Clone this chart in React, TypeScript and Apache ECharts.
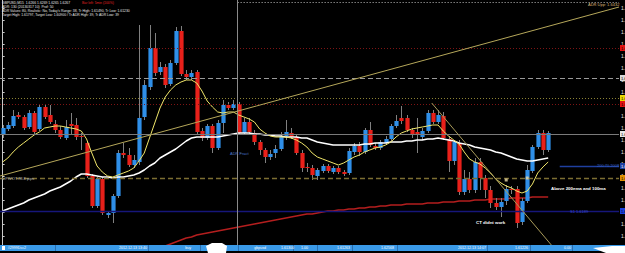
import React, { useEffect, useRef } from "react";
import * as echarts from "echarts";

// GBPUSD M15 candles (index = bar number from the left edge)
const opens = [
  1.6265, 1.6271, 1.6274, 1.6285, 1.6283, 1.6273, 1.6287, 1.6271, 1.6293, 1.6285,
  1.6276, 1.6270, 1.6262, 1.6276, 1.6275, 1.6264, 1.6257, 1.6224, 1.6194, 1.6221,
  1.6185, 1.6187, 1.6204, 1.6247, 1.6245, 1.6235, 1.6238, 1.6283, 1.6313, 1.6352,
  1.6328, 1.6333, 1.6316, 1.6337, 1.6369, 1.6326, 1.6323, 1.6328, 1.6269, 1.6262,
  1.6274, 1.6252, 1.6277, 1.6295, 1.6292, 1.6296, 1.6267, 1.6278, 1.6267, 1.6258,
  1.6250, 1.6243, 1.6247, 1.6251, 1.6264, 1.6267, 1.6263, 1.6247, 1.6233, 1.6232,
  1.6224, 1.6229, 1.6234, 1.6228, 1.6232, 1.6228, 1.6227, 1.6248, 1.6254, 1.6248,
  1.6270, 1.6254, 1.6252, 1.6257, 1.6261, 1.6274, 1.6282, 1.6282, 1.6270, 1.6268,
  1.6263, 1.6269, 1.6287, 1.6278, 1.6284, 1.6261, 1.6239, 1.6257, 1.6208, 1.6221,
  1.6210, 1.6238, 1.6222, 1.6210, 1.6197, 1.6193, 1.6199, 1.6211, 1.6211, 1.6178,
  1.6199, 1.6229, 1.6253, 1.6267, 1.6250,
];
const closes = [
  1.6272, 1.6275, 1.6284, 1.6283, 1.6272, 1.6287, 1.6268, 1.6293, 1.6283, 1.6278,
  1.6270, 1.6263, 1.6273, 1.6274, 1.6263, 1.6263, 1.6224, 1.6194, 1.6221, 1.6187,
  1.6187, 1.6204, 1.6247, 1.6245, 1.6235, 1.6240, 1.6282, 1.6315, 1.6352, 1.6327,
  1.6333, 1.6315, 1.6337, 1.6369, 1.6326, 1.6323, 1.6327, 1.6268, 1.6262, 1.6274,
  1.6252, 1.6277, 1.6295, 1.6292, 1.6296, 1.6267, 1.6278, 1.6268, 1.6258, 1.6250,
  1.6243, 1.6246, 1.6251, 1.6264, 1.6268, 1.6263, 1.6247, 1.6232, 1.6232, 1.6225,
  1.6230, 1.6234, 1.6229, 1.6232, 1.6228, 1.6226, 1.6249, 1.6254, 1.6248, 1.6270,
  1.6255, 1.6252, 1.6258, 1.6261, 1.6274, 1.6279, 1.6279, 1.6270, 1.6265, 1.6266,
  1.6269, 1.6287, 1.6278, 1.6285, 1.6262, 1.6239, 1.6258, 1.6208, 1.6221, 1.6210,
  1.6238, 1.6222, 1.6210, 1.6197, 1.6193, 1.6198, 1.6211, 1.6210, 1.6177, 1.6199,
  1.6230, 1.6253, 1.6267, 1.6250, 1.6267,
];
const lows = [
  1.6262, 1.6269, 1.6272, 1.6281, 1.6270, 1.6271, 1.6266, 1.6269, 1.6281, 1.6276,
  1.6267, 1.6261, 1.6260, 1.6265, 1.6260, 1.6250, 1.6222, 1.6192, 1.6192, 1.6185,
  1.6182, 1.6177, 1.6202, 1.6242, 1.6233, 1.6232, 1.6235, 1.6280, 1.6310, 1.6324,
  1.6325, 1.6312, 1.6314, 1.6335, 1.6324, 1.6320, 1.6320, 1.6266, 1.6259, 1.6260,
  1.6247, 1.6250, 1.6267, 1.6290, 1.6290, 1.6265, 1.6265, 1.6266, 1.6255, 1.6245,
  1.6237, 1.6240, 1.6242, 1.6249, 1.6260, 1.6261, 1.6245, 1.6228, 1.6228, 1.6220,
  1.6220, 1.6227, 1.6227, 1.6226, 1.6226, 1.6224, 1.6225, 1.6245, 1.6244, 1.6246,
  1.6253, 1.6250, 1.6250, 1.6255, 1.6259, 1.6272, 1.6276, 1.6268, 1.6262, 1.6247,
  1.6260, 1.6267, 1.6276, 1.6276, 1.6260, 1.6228, 1.6235, 1.6205, 1.6205, 1.6207,
  1.6207, 1.6210, 1.6202, 1.6192, 1.6190, 1.6183, 1.6195, 1.6206, 1.6172, 1.6175,
  1.6197, 1.6227, 1.6251, 1.6245, 1.6248,
];
const highs = [
  1.6275, 1.6278, 1.6290, 1.6288, 1.6285, 1.6290, 1.6289, 1.6295, 1.6295, 1.6295,
  1.6280, 1.6274, 1.6280, 1.6287, 1.6282, 1.6267, 1.6259, 1.6226, 1.6223, 1.6223,
  1.6189, 1.6206, 1.6250, 1.6257, 1.6252, 1.6245, 1.6375, 1.6320, 1.6375, 1.6367,
  1.6338, 1.6336, 1.6340, 1.6373, 1.6374, 1.6330, 1.6330, 1.6330, 1.6272, 1.6276,
  1.6276, 1.6280, 1.6300, 1.6298, 1.6300, 1.6298, 1.6282, 1.6282, 1.6270, 1.6260,
  1.6252, 1.6250, 1.6255, 1.6268, 1.6280, 1.6272, 1.6265, 1.6250, 1.6237, 1.6235,
  1.6232, 1.6236, 1.6236, 1.6234, 1.6234, 1.6230, 1.6252, 1.6257, 1.6258, 1.6272,
  1.6278, 1.6257, 1.6260, 1.6264, 1.6276, 1.6285, 1.6294, 1.6285, 1.6272, 1.6282,
  1.6272, 1.6290, 1.6290, 1.6290, 1.6288, 1.6264, 1.6260, 1.6260, 1.6230, 1.6228,
  1.6242, 1.6242, 1.6225, 1.6214, 1.6202, 1.6202, 1.6215, 1.6214, 1.6214, 1.6202,
  1.6235, 1.6255, 1.6270, 1.6270, 1.6269,
];

// Moving averages
const fastMA = [
  1.6238, 1.6242, 1.6248, 1.6253, 1.6257, 1.6261, 1.6265, 1.6268, 1.6272, 1.6273,
  1.6274, 1.6274, 1.6273, 1.6272, 1.6271, 1.6269, 1.6261, 1.6247, 1.6234, 1.6228,
  1.6224, 1.6223, 1.6225, 1.6227, 1.6229, 1.6232, 1.6239, 1.6247, 1.6262, 1.6277,
  1.6292, 1.6303, 1.6310, 1.6315, 1.6318, 1.6320, 1.6320, 1.6317, 1.6309, 1.6299,
  1.6293, 1.6288, 1.6287, 1.6288, 1.6288, 1.6285, 1.6283, 1.6281, 1.6278, 1.6271,
  1.6267, 1.6264, 1.6263, 1.6263, 1.6263, 1.6262, 1.6260, 1.6257, 1.6253, 1.6247,
  1.6243, 1.6241, 1.6239, 1.6237, 1.6235, 1.6237, 1.6240, 1.6243, 1.6245, 1.6248,
  1.6250, 1.6252, 1.6253, 1.6255, 1.6258, 1.6263, 1.6267, 1.6269, 1.6271, 1.6272,
  1.6273, 1.6274, 1.6275, 1.6275, 1.6269, 1.6264, 1.6260, 1.6256, 1.6248, 1.6241,
  1.6238, 1.6236, 1.6232, 1.6227, 1.6221, 1.6217, 1.6214, 1.6212, 1.6209, 1.6207,
  1.6209, 1.6216, 1.6227, 1.6233, 1.6238,
];
const slowMA = [
  1.6189, 1.6191, 1.6193, 1.6195, 1.6197, 1.6200, 1.6202, 1.6204, 1.6206, 1.6209,
  1.6211, 1.6213, 1.6216, 1.6219, 1.6223, 1.6226, 1.6226, 1.6225, 1.6224, 1.6223,
  1.6223, 1.6222, 1.6223, 1.6223, 1.6224, 1.6225, 1.6227, 1.6230, 1.6234, 1.6237,
  1.6242, 1.6245, 1.6248, 1.6251, 1.6255, 1.6259, 1.6262, 1.6263, 1.6263, 1.6263,
  1.6263, 1.6263, 1.6264, 1.6265, 1.6266, 1.6267, 1.6267, 1.6267, 1.6266, 1.6266,
  1.6265, 1.6265, 1.6264, 1.6264, 1.6263, 1.6263, 1.6263, 1.6262, 1.6262, 1.6260,
  1.6258, 1.6257, 1.6256, 1.6255, 1.6255, 1.6255, 1.6255, 1.6255, 1.6255, 1.6256,
  1.6256, 1.6257, 1.6257, 1.6257, 1.6258, 1.6258, 1.6258, 1.6259, 1.6259, 1.6260,
  1.6260, 1.6261, 1.6261, 1.6262, 1.6261, 1.6260, 1.6259, 1.6257, 1.6256, 1.6255,
  1.6253, 1.6252, 1.6251, 1.6250, 1.6248, 1.6247, 1.6245, 1.6243, 1.6241, 1.6240,
  1.6239, 1.6239, 1.6240, 1.6241, 1.6242,
];
const ema200Start = 28;
const ema200 = [
  1.6144, 1.6148, 1.6151, 1.6154, 1.6156, 1.6158, 1.6160, 1.6162, 1.6163, 1.6165,
  1.6166, 1.6167, 1.6168, 1.6169, 1.6170, 1.6171, 1.6172, 1.6173, 1.6174, 1.6175,
  1.6176, 1.6177, 1.6178, 1.6179, 1.6180, 1.6181, 1.6182, 1.6183, 1.6184, 1.6185,
  1.6186, 1.6186, 1.6187, 1.6188, 1.6189, 1.6189, 1.6190, 1.6190, 1.6191, 1.6191,
  1.6192, 1.6192, 1.6193, 1.6193, 1.6194, 1.6194, 1.6195, 1.6195, 1.6195, 1.6196,
  1.6196, 1.6196, 1.6196, 1.6197, 1.6197, 1.6197, 1.6198, 1.6198, 1.6198, 1.6199,
  1.6199, 1.6199, 1.6200, 1.6200, 1.6200, 1.6201, 1.6201, 1.6201, 1.6201, 1.6202,
  1.6202, 1.6202, 1.6202, 1.6203, 1.6203, 1.6203, 1.6203,
];

// Horizontal levels (full width)
const levelPrices = [1.6352, 1.6322, 1.6302, 1.6296, 1.6266, 1.6222, 1.6189];
// Partial levels
const topLevel = { from: 44.8, price: 1.6398 };
const emaLevel = { from: 106.2, price: 1.6234 };
const separatorBar = 44.8;
// Trend lines [bar, price]
const trendUp = [[-0.5, 1.6224], [117.5, 1.6393]];
const trendDown = [[81.8, 1.6297], [104.6, 1.6155]];
// trade arrows
const tradeMarks = [[96, 1.6220], [100, 1.6222]];

const yMin = 1.6152;
const yMax = 1.64;
const yStep = 0.0012;
const totalSlots = 118;

const infoLines = [
  "GBPUSD,M15  1.6266 1.6269 1.6265 1.6267",
  "ADR: 130 (20130317 10)  Prof: 50",
  "ADR Values: 80, Realistic: No, Today's Range: 38, Tr High: 1.61490, Tr Low: 1.61230",
  "Target High: 1.61797, Target Low: 1.60900 / Tr ADR High: 39, Tr ADR Low: 39",
];

const barCells = [
  { x: 26, text: "#2999Dcc2" },
  { x: 147, text: "2012.12.13 13:40" },
  { x: 191, text: "buy" },
  { x: 266, text: "gbpusd" },
  { x: 294, text: "1.61300" },
  { x: 308, text: "1.00" },
  { x: 350, text: "1.61263" },
  { x: 394, text: "1.62568" },
  { x: 486, text: "2012.12.13 14:07" },
  { x: 528, text: "1.61226" },
  { x: 571, text: "0.00" },
];
const barSeparators = [55, 148, 200, 238, 293, 317, 352, 397, 487, 530, 572];

const FONT = "Liberation Sans, Arial, sans-serif";

export default function App() {
  const ref = useRef<HTMLDivElement>(null);
  useEffect(() => {
    document.body.style.margin = "0";
    const chart = echarts.init(ref.current!, null, { renderer: "svg" });
    const candleData = opens.map((o, i) => [i, o, closes[i], lows[i], highs[i]]);
    const levelColors = ["#7e1414", "#9a9a9a", "#8c8234", "#7e1414", "#7a7a7a", "#7c6e32", "#16167a"];
    const levelTypes: any[] = [[1, 2], [5, 3], [1, 2], [1, 2], "solid", [5, 3], "solid"];
    const levelWidths = [1, 1, 1, 1, 1, 1.3, 1.3];
    const boxColors = ["#e01010", "#d8d8d8", "#e8d800", "#e01010", "#e8e8e8", "#e09000", "#1a40e0"];

    const mlData: any[] = levelPrices.map((p, k) => ({
      yAxis: p,
      lineStyle: { color: levelColors[k], type: levelTypes[k], width: levelWidths[k] },
      label: {
        show: true,
        position: "end",
        distance: 1,
        formatter: p.toFixed(4),
        fontSize: 4,
        fontFamily: FONT,
        color: "#000",
        backgroundColor: boxColors[k],
        padding: [1, 1],
      },
    }));
    mlData.push([
      { coord: [topLevel.from, topLevel.price], lineStyle: { color: "#bdbdbd", type: [1, 2], width: 1 } },
      { coord: [totalSlots - 0.5, topLevel.price] },
    ]);
    mlData.push([
      {
        coord: [emaLevel.from, emaLevel.price],
        lineStyle: { color: "#1f3f9f", type: "solid", width: 1.3 },
        label: {
          show: true, position: "end", distance: 1, formatter: emaLevel.price.toFixed(4),
          fontSize: 4, color: "#fff", backgroundColor: "#1f3f9f", padding: [1, 1], fontFamily: FONT,
        },
      },
      { coord: [totalSlots - 0.5, emaLevel.price] },
    ]);
    mlData.push({ xAxis: separatorBar, lineStyle: { color: "#8a8a8a", type: "solid", width: 1 } });
    mlData.push([
      { coord: trendUp[0], lineStyle: { color: "#b5a75a", type: "solid", width: 1 } },
      { coord: trendUp[1] },
    ]);
    mlData.push([
      { coord: trendDown[0], lineStyle: { color: "#a89a5a", type: "solid", width: 1 } },
      { coord: trendDown[1] },
    ]);

    const txt = (x: number, y: number, text: string, fill: string, size = 4, extra: any = {}) => ({
      type: "text",
      x,
      y,
      silent: true,
      style: { text, fill, fontSize: size, fontFamily: FONT, verticalAlign: "top", ...extra },
      z: 100,
    });

    const graphics: any[] = [];
    infoLines.forEach((t, k) => graphics.push(txt(2, 1 + k * 4, t, "#e6e6e6", 3.4)));
    graphics.push(txt(82, 1, "Bar left: 5min (100%)", "#e02020", 3.4));
    graphics.push(txt(588, 2, "ADR Upp: 1.6432", "#dcb878", 4));
    graphics.push(txt(230, 151, "ADR Fract", "#4a78c8", 4));
    graphics.push(txt(2, 176, "a:PIVOT:78.8 pips", "#b8b8b8", 4));
    graphics.push(txt(597, 163, "200:70.2008", "#3a60c0", 4));
    graphics.push(txt(570, 209, "S1 1.6189", "#3a4ad0", 4));
    graphics.push(txt(551, 186, "Above 200ema and 100ma", "#ffffff", 4.4, { fontWeight: "bold" }));
    graphics.push(txt(476, 220, "CT didnt work", "#ffffff", 4.4, { fontWeight: "bold" }));
    // bottom trade bar
    graphics.push({ type: "rect", shape: { x: 0, y: 245, width: 625, height: 6 }, style: { fill: "#3a9ae8" }, z: 90 });
    graphics.push({ type: "rect", shape: { x: 0, y: 251, width: 625, height: 2 }, style: { fill: "#000" }, z: 90 });
    barSeparators.forEach((sx) =>
      graphics.push({ type: "line", shape: { x1: sx + 0.5, y1: 245, x2: sx + 0.5, y2: 251 }, style: { stroke: "#2b6fb0", lineWidth: 1 }, z: 91 })
    );
    graphics.push({ type: "rect", shape: { x: 2, y: 246, width: 3, height: 4 }, style: { fill: "#ffffff" }, z: 92 });
    barCells.forEach((c) =>
      graphics.push({
        type: "text", x: c.x, y: 248, silent: true, z: 92,
        style: { text: c.text, fill: "#ffffff", fontSize: 3.6, fontFamily: FONT, align: "right", verticalAlign: "middle" },
      })
    );
    // mouse cursors
    graphics.push({
      type: "polygon", z: 95,
      shape: { points: [[206, 246], [212, 243], [222, 243], [227, 246], [226, 253], [208, 253]] },
      style: { fill: "#ffffff" },
    });
    graphics.push({
      type: "polygon", z: 95,
      shape: { points: [[593, 248], [612, 246], [625, 246], [625, 253], [606, 253]] },
      style: { fill: "#ffffff" },
    });

    const option: any = {
      animation: false,
      backgroundColor: "#000000",
      grid: { left: 0, right: 6, top: 0, bottom: 5, containLabel: false, outerBoundsMode: "none" },
      xAxis: {
        type: "value",
        min: -0.5,
        max: totalSlots - 0.5,
        show: false,
        splitLine: { show: false },
      },
      yAxis: {
        type: "value",
        position: "right",
        min: yMin,
        max: yMax,
        interval: yStep,
        scale: true,
        splitLine: { show: false },
        axisLine: { show: true, lineStyle: { color: "#c8c8c8", width: 1 } },
        axisTick: { show: true, length: 2, lineStyle: { color: "#c8c8c8" } },
        axisLabel: {
          show: true, margin: 2, fontSize: 5, color: "#e0e0e0", fontFamily: FONT,
          showMaxLabel: false,
          formatter: (v: number) => v.toFixed(4),
        },
      },
      series: [
        {
          name: "EMA200",
          type: "line",
          z: 1,
          symbol: "none",
          clip: true,
          data: ema200.map((v, k) => [ema200Start + k, v]),
          lineStyle: { color: "#b41e1e", width: 1.5 },
          markLine: {
            silent: true,
            precision: 6,
            symbol: ["none", "none"],
            animation: false,
            label: { show: false },
            data: mlData,
          },
        },
        {
          name: "candles",
          type: "custom",
          z: 2,
          clip: true,
          data: candleData,
          encode: { x: 0, y: [1, 2, 3, 4] },
          renderItem: (params: any, api: any) => {
            const x = api.value(0);
            const o = api.value(1);
            const c = api.value(2);
            const pO = api.coord([x, o]);
            const pC = api.coord([x, c]);
            const pL = api.coord([x, api.value(3)]);
            const pH = api.coord([x, api.value(4)]);
            const w = api.size([1, 0])[0] * 0.8;
            const cx = Math.round(pO[0]) + 0.5;
            const top = Math.min(pO[1], pC[1]);
            const h = Math.max(1, Math.abs(pO[1] - pC[1]));
            const up = c > o;
            return {
              type: "group",
              children: [
                { type: "line", shape: { x1: cx, y1: pH[1], x2: cx, y2: pL[1] }, style: { stroke: "#808080", lineWidth: 1 } },
                { type: "rect", shape: { x: cx - w / 2, y: top, width: w, height: h }, style: { fill: up ? "#2f8fe8" : "#e8201a" } },
              ],
            };
          },
        },
        {
          name: "MA slow",
          type: "line",
          z: 3,
          symbol: "none",
          data: slowMA.map((v, i) => [i, v]),
          lineStyle: { color: "#ffffff", width: 1.5 },
        },
        {
          name: "MA fast",
          type: "line",
          z: 4,
          symbol: "none",
          data: fastMA.map((v, i) => [i, v]),
          lineStyle: { color: "#f0e66a", width: 1 },
        },
        {
          name: "trades",
          type: "scatter",
          z: 5,
          symbol: "rect",
          symbolSize: 3,
          data: tradeMarks,
          itemStyle: { color: "#e8d8a8" },
        },
      ],
      graphic: graphics,
    };
    chart.setOption(option);
    return () => chart.dispose();
  }, []);
  return (
    <div
      ref={ref}
      style={{ position: "fixed", left: 0, top: 0, width: 625, height: 253, background: "#000" }}
    />
  );
}
